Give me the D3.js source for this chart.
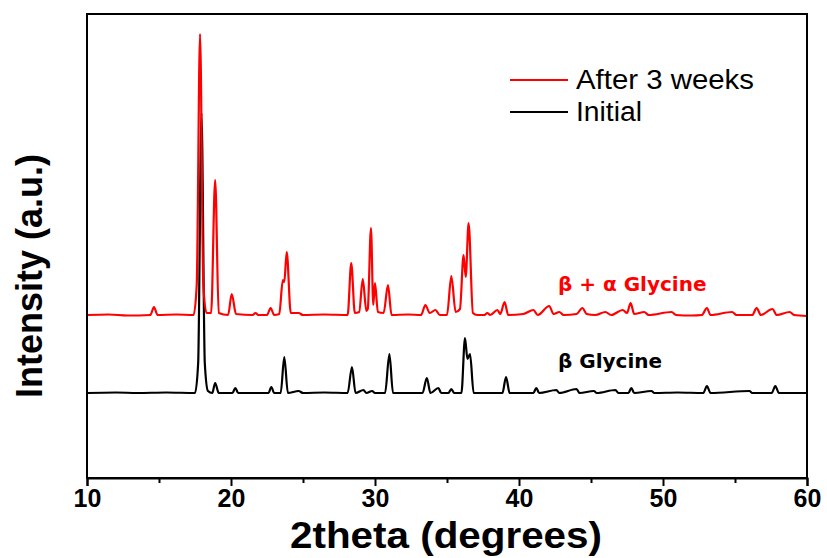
<!DOCTYPE html>
<html>
<head>
<meta charset="utf-8">
<script src="https://cdn.jsdelivr.net/npm/d3@7"></script>
<style>
  html, body { margin: 0; padding: 0; background: #fff; }
  svg { display: block; }
</style>
</head>
<body>
<svg id="chart" width="827" height="558"></svg>
<script>
// ---- data (2theta in degrees, intensity in a.u. above each trace's baseline) ----
const seriesNames = ["After 3 weeks", "Initial"];
const seriesColors = ["#ff0000", "#000000"];
const xTicks = [10, 20, 30, 40, 50, 60];
const xMinorTicks = [15, 25, 35, 45, 55];
const xDomain = [10, 60];
const yDomain = [0, 4640];
const redOffset = 1630;   // vertical offset of the "After 3 weeks" trace
const blackOffset = 850;  // vertical offset of the "Initial" trace

const after3weeks = [
  [10, 0], [11.5, 5], [12.8, -5], [14.4, 0], [14.65, 80], [14.9, 0],
  [16.2, 5], [17.4, 0], [17.62, 300], [17.85, 2810], [18.08, 300], [18.3, 20],
  [18.62, 20], [18.9, 1350], [19.15, 20],
  [19.8, 0], [20.05, 210], [20.35, 10],
  [21.5, 0], [21.7, 20], [21.9, 0],
  [22.5, 0], [22.75, 70], [23.0, 0],
  [23.35, 10], [23.6, 350], [23.7, 330], [23.87, 630], [24.15, 20], [24.7, 20], [25.0, 0],
  [26.5, 5], [28.1, 0], [28.35, 520], [28.6, 20], [28.9, 30], [29.15, 360], [29.4, 40],
  [29.5, 60], [29.72, 870], [29.88, 100], [30.0, 320], [30.2, 30], [30.6, 20], [30.9, 300], [31.15, 0],
  [32.3, 5], [33.2, 0], [33.5, 100], [33.8, 20], [34.2, 50], [34.5, 0],
  [35.0, 0], [35.3, 390], [35.6, 30], [35.9, 60], [36.15, 600], [36.3, 380], [36.5, 920], [36.8, 20], [37.1, 0],
  [37.6, 0], [37.8, 20], [38.0, 0], [38.5, 50], [38.7, 10], [39.0, 130], [39.25, 0],
  [40.3, 10], [41.0, 50], [41.3, 0], [42.1, 90], [42.4, 10], [42.8, 30], [43.1, 0],
  [44.0, 10], [44.4, 70], [44.7, 10], [45.3, 0], [46.0, 30], [46.4, 0], [47.2, 50], [47.5, 20],
  [47.75, 120], [48.0, 10], [48.7, 30], [49.0, 0], [50.6, 30], [50.9, 0], [52.0, -5],
  [52.7, 0], [53.05, 70], [53.3, 0], [54.8, 30], [55.1, 0], [56.2, 0], [56.5, 70], [56.8, 0],
  [57.6, 60], [57.9, 0], [58.8, 30], [59.1, 0], [60, -10]
];

const initial = [
  [10, 0], [12.0, 5], [13.5, 0], [15.5, 5], [17.5, 0], [17.72, 300], [17.95, 2800], [18.18, 300], [18.4, 20],
  [18.7, 0], [18.9, 100], [19.15, 0], [20.1, 0], [20.3, 50], [20.5, 0],
  [22.6, 0], [22.8, 60], [23.0, 0], [23.45, 0], [23.7, 360], [23.95, 0], [24.7, 20], [25.0, 0],
  [26.5, 5], [28.1, 0], [28.4, 260], [28.65, 0], [29.2, 30], [29.4, 0], [29.8, 20], [30.0, 0],
  [30.7, 0], [31.0, 390], [31.25, 0], [33.3, 0], [33.6, 150], [33.85, 0], [34.4, 50], [34.6, 0],
  [35.1, 0], [35.3, 40], [35.5, 0], [36.0, 0], [36.25, 550], [36.42, 340], [36.6, 390], [36.85, 0],
  [38.85, 0], [39.1, 160], [39.35, 0], [41.0, 0], [41.2, 50], [41.4, 0], [42.6, 30], [42.8, 0],
  [44.0, 40], [44.2, 0], [45.2, 20], [45.4, 0], [46.7, 30], [46.9, 0], [47.6, 0], [47.8, 50], [48.0, 0],
  [49.2, 20], [49.4, 0], [51.0, 5], [52.8, 0], [53.05, 70], [53.3, 0], [56.0, 20], [56.2, 0],
  [57.55, 0], [57.8, 70], [58.05, 0], [60, 0]
];

// ---- layout ----
const svg = d3.select("#chart");
const plot = { left: 87, right: 807, top: 14, bottom: 478 };

const x = d3.scaleLinear().domain(xDomain).range([plot.left, plot.right]);
const y = d3.scaleLinear().domain(yDomain).range([plot.bottom, plot.top]);

svg.append("defs").append("clipPath").attr("id", "clip")
  .append("rect").attr("x", plot.left).attr("y", plot.top)
  .attr("width", plot.right - plot.left).attr("height", plot.bottom - plot.top);

const line = off => d3.line()
  .x(d => x(d[0]))
  .y(d => y(d[1] + off))
  .curve(d3.curveMonotoneX);

const g = svg.append("g").attr("clip-path", "url(#clip)");
g.append("path").datum(initial)
  .attr("fill", "none").attr("stroke", seriesColors[1]).attr("stroke-width", 2.2)
  .attr("stroke-linejoin", "round")
  .attr("d", line(blackOffset));
g.append("path").datum(after3weeks)
  .attr("fill", "none").attr("stroke", seriesColors[0]).attr("stroke-width", 2.2)
  .attr("stroke-linejoin", "round")
  .attr("d", line(redOffset));

// frame
svg.append("rect")
  .attr("x", plot.left).attr("y", plot.top)
  .attr("width", plot.right - plot.left).attr("height", plot.bottom - plot.top)
  .attr("fill", "none").attr("stroke", "#000").attr("stroke-width", 2);

// x axis
const xAxis = d3.axisBottom(x).tickValues(xTicks).tickSize(8).tickFormat(d3.format("d"));
const ax = svg.append("g").attr("transform", `translate(0,${plot.bottom})`).call(xAxis);
ax.select(".domain").attr("stroke-width", 2);
ax.selectAll(".tick line").attr("stroke-width", 2);
ax.selectAll(".tick text")
  .attr("font-family", "Liberation Sans, Arial, sans-serif")
  .attr("font-weight", "bold").attr("font-size", 25).attr("fill", "#000")
  .attr("dy", "0").attr("y", 29);

const axMinor = d3.axisBottom(x).tickValues(xMinorTicks).tickSize(5).tickFormat("");
const am = svg.append("g").attr("transform", `translate(0,${plot.bottom})`).call(axMinor);
am.select(".domain").remove();
am.selectAll(".tick line").attr("stroke-width", 2);

// axis titles
svg.append("text")
  .attr("x", 446).attr("y", 548)
  .attr("text-anchor", "middle")
  .attr("font-family", "Liberation Sans, Arial, sans-serif")
  .attr("font-weight", "bold").attr("font-size", 37)
  .attr("textLength", 312).attr("lengthAdjust", "spacingAndGlyphs")
  .text("2theta (degrees)");

svg.append("text")
  .attr("transform", "translate(42,276) rotate(-90)")
  .attr("text-anchor", "middle")
  .attr("font-family", "Liberation Sans, Arial, sans-serif")
  .attr("font-weight", "bold").attr("font-size", 36)
  .text("Intensity (a.u.)");

// legend
const legend = svg.append("g");
const legendLengths = [178, 66];
seriesNames.forEach((name, i) => {
  const yy = 80 + i * 32;
  legend.append("line")
    .attr("x1", 510).attr("x2", 568).attr("y1", yy).attr("y2", yy)
    .attr("stroke", seriesColors[i]).attr("stroke-width", 2);
  legend.append("text")
    .attr("x", 576).attr("y", yy + 9)
    .attr("font-family", "Liberation Sans, Arial, sans-serif")
    .attr("font-size", 27).attr("fill", "#000")
    .attr("textLength", legendLengths[i]).attr("lengthAdjust", "spacingAndGlyphs")
    .text(name);
});

// annotations
svg.append("text")
  .attr("x", 558).attr("y", 291)
  .attr("font-family", "DejaVu Sans, Verdana, sans-serif")
  .attr("font-weight", "bold").attr("font-size", 20).attr("fill", "#ff0000")
  .text("β + α Glycine");
svg.append("text")
  .attr("x", 558).attr("y", 368)
  .attr("font-family", "DejaVu Sans, Verdana, sans-serif")
  .attr("font-weight", "bold").attr("font-size", 20).attr("fill", "#000")
  .text("β Glycine");
</script>
</body>
</html>
